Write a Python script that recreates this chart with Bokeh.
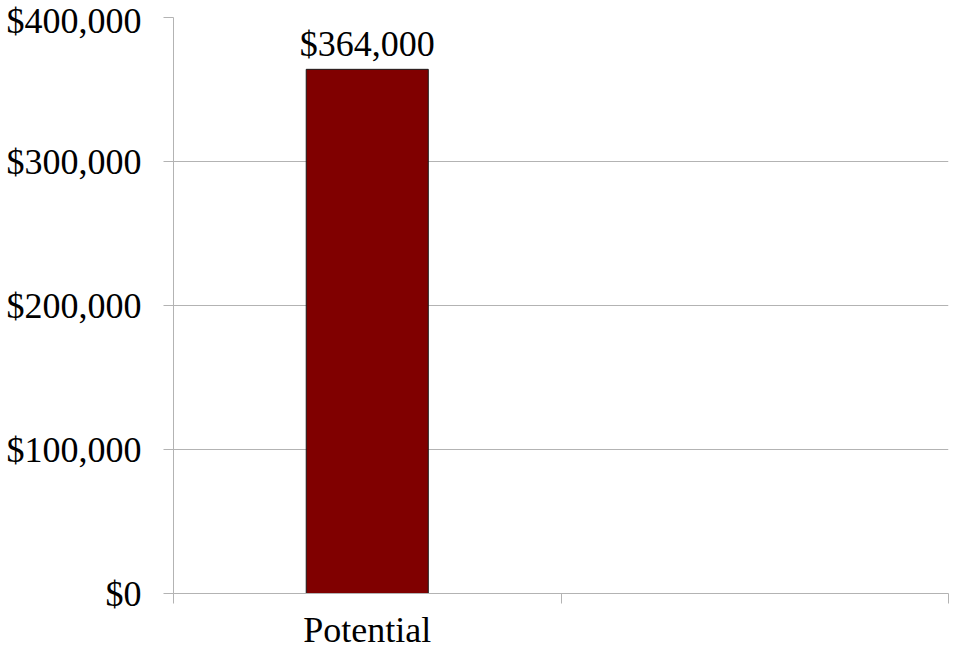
from bokeh.plotting import figure
from bokeh.models import FixedTicker, NumeralTickFormatter, Range1d, ColumnDataSource
from bokeh.core.properties import value
from bokeh.embed import file_html
from bokeh.resources import INLINE

# ---- data ----
categories = ["Potential", ""]
bar_categories = ["Potential"]
bar_values = [364000]
y_ticks = [0, 100000, 200000, 300000, 400000]

FONT = "Liberation Serif"
GRAY = "#b3b3b3"

x_pos = [categories.index(c) + 0.5 for c in bar_categories]
labels = ["${:,.0f}".format(v) for v in bar_values]
src = ColumnDataSource(dict(x=x_pos, top=bar_values, label=labels))

p = figure(width=951, height=652,
           x_range=Range1d(0, len(categories)), y_range=Range1d(0, 400000),
           output_backend="svg", toolbar_location=None,
           min_border_left=173, min_border_right=3,
           min_border_top=17, min_border_bottom=52)
p.outline_line_color = None
p.background_fill_color = "white"
p.border_fill_color = "white"

p.vbar(x="x", top="top", width=0.315, bottom=0, source=src,
       fill_color="#800000", line_color="#1a1a1a", line_width=1)
p.text(x="x", y="top", text="label", source=src,
       text_font=value(FONT), text_font_size="36px", text_color="black",
       text_align="center", text_baseline="alphabetic", y_offset=-25)

# grid
p.xgrid.visible = False
p.ygrid.grid_line_color = GRAY
p.ygrid.ticker = FixedTicker(ticks=y_ticks)

# y axis
p.yaxis.ticker = FixedTicker(ticks=y_ticks)
p.yaxis.formatter = NumeralTickFormatter(format="$0,0")
p.yaxis.axis_line_color = GRAY
p.yaxis.major_tick_line_color = GRAY
p.yaxis.major_tick_in = 0
p.yaxis.major_tick_out = 10
p.yaxis.minor_tick_line_color = None
p.yaxis.major_label_text_font = FONT
p.yaxis.major_label_text_font_size = "36px"
p.yaxis.major_label_text_color = "black"
p.yaxis.major_label_standoff = 22

# x axis: category boundaries as minor ticks, names at centers
centers = [i + 0.5 for i in range(len(categories))]
bounds = list(range(len(categories) + 1))
p.xaxis.ticker = FixedTicker(ticks=centers, minor_ticks=bounds)
p.xaxis.major_label_overrides = {c: name for c, name in zip(centers, categories)}
p.xaxis.axis_line_color = GRAY
p.xaxis.major_tick_line_color = None
p.xaxis.minor_tick_line_color = GRAY
p.xaxis.minor_tick_in = 0
p.xaxis.minor_tick_out = 10
p.xaxis.major_tick_in = 0
p.xaxis.major_tick_out = 0
p.xaxis.major_label_text_font = FONT
p.xaxis.major_label_text_font_size = "36px"
p.xaxis.major_label_text_color = "black"
p.xaxis.major_label_standoff = 6

open("out.html", "w").write(file_html(p, INLINE))
